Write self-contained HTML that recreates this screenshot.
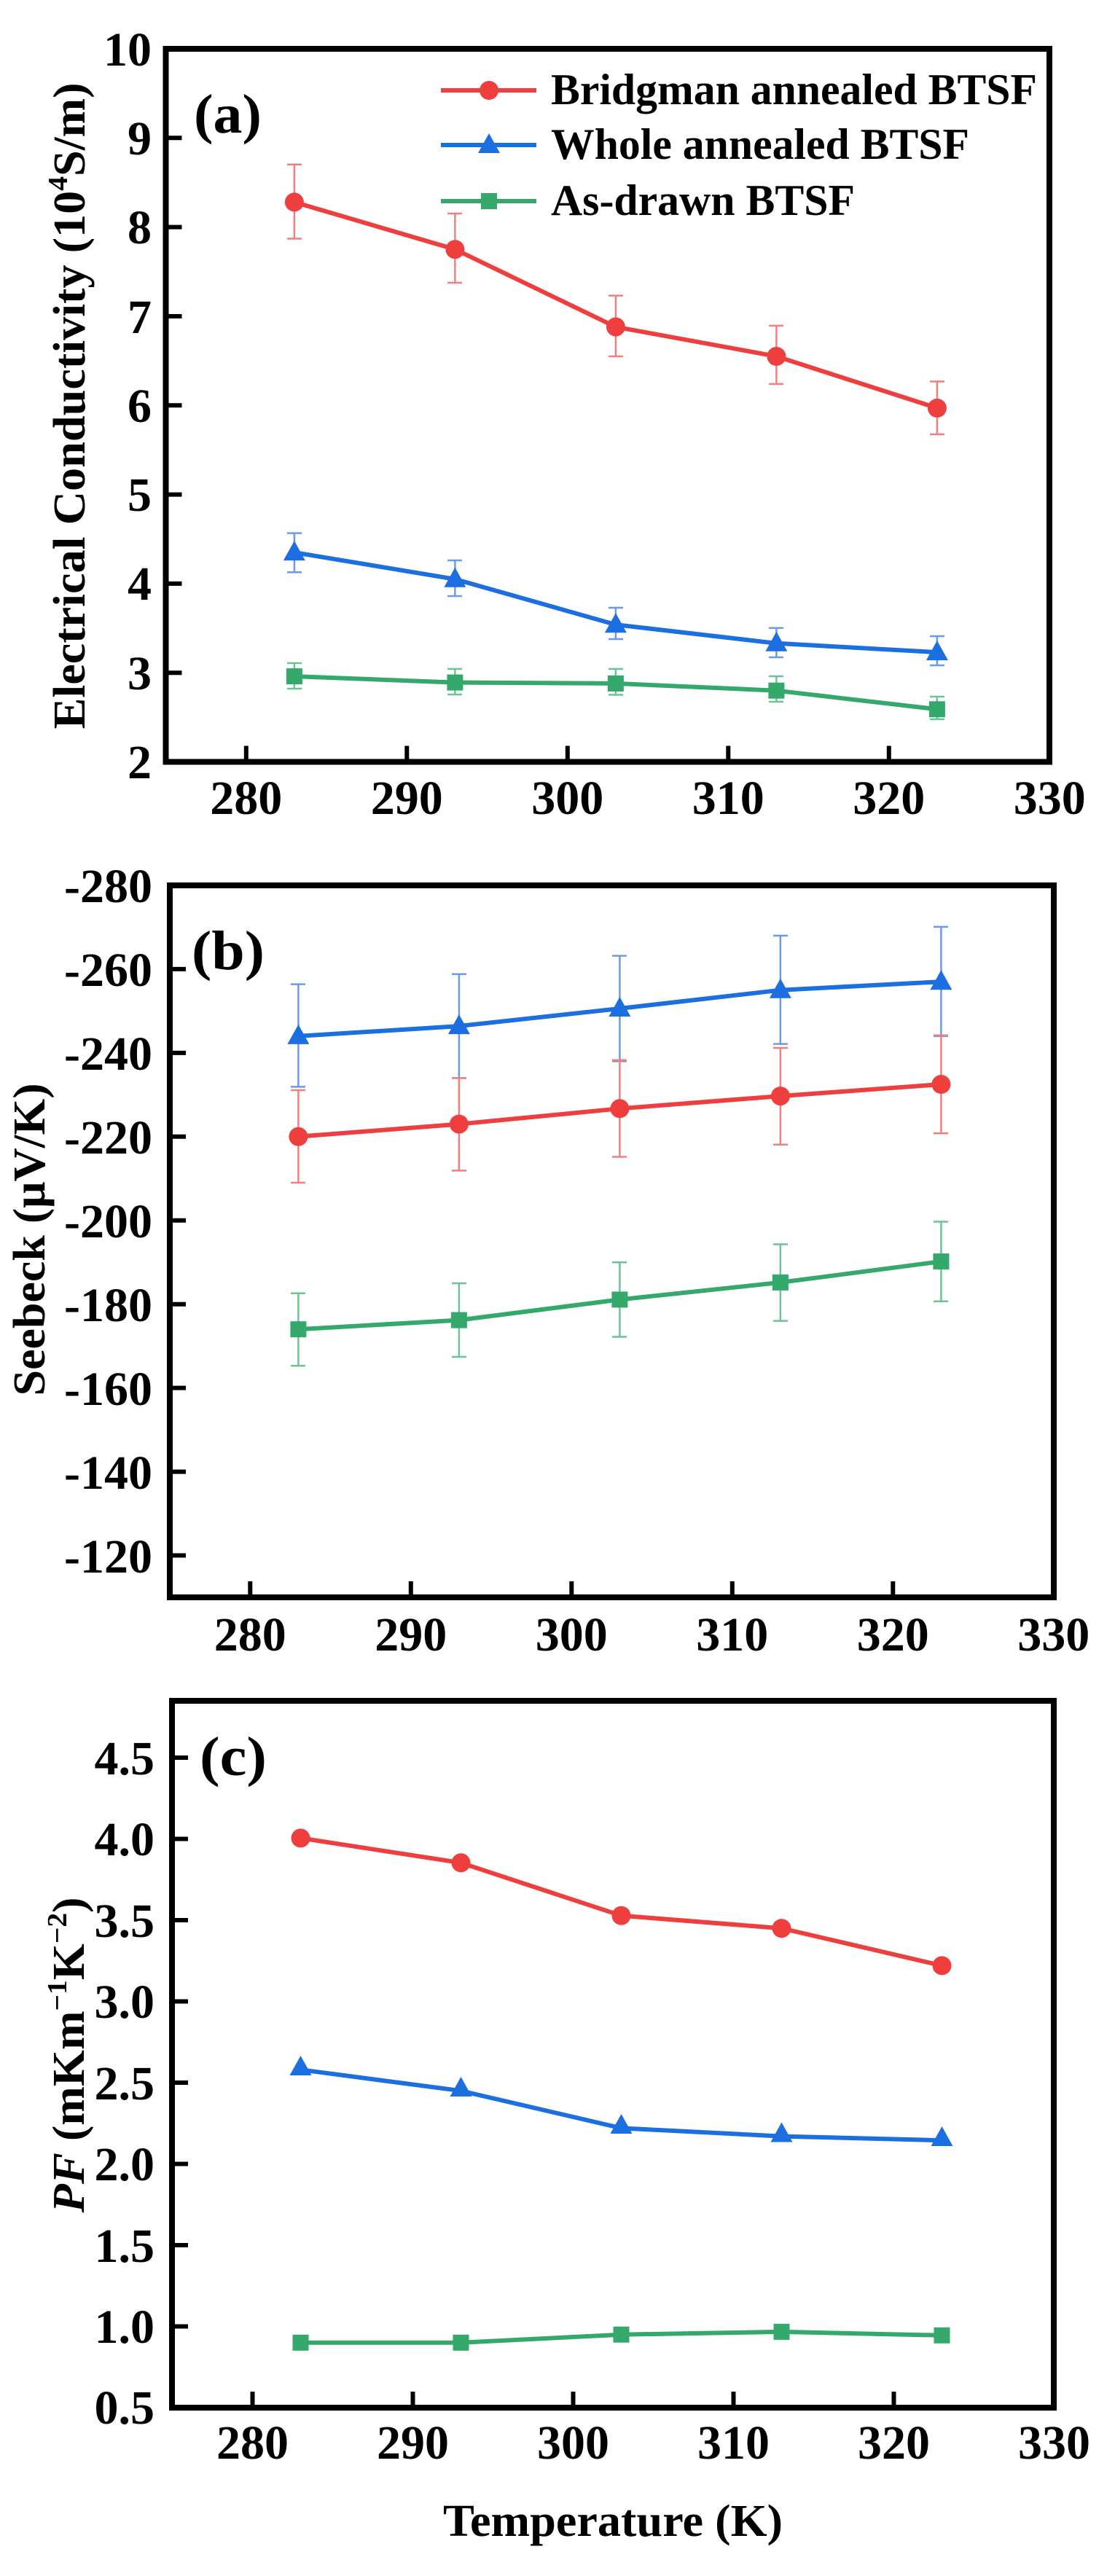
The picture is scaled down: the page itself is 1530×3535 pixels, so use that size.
<!DOCTYPE html>
<html><head><meta charset="utf-8"><style>html,body{margin:0;padding:0;background:#fff}svg{display:block}</style></head>
<body>
<svg xmlns="http://www.w3.org/2000/svg" width="1530" height="3535" viewBox="0 0 1530 3535" font-family="'Liberation Serif', serif" font-weight="bold">
<defs>
<g id="ci"><circle r="13" fill="#EF3E3E"/></g>
<g id="tr"><path d="M0,-16 L15,11 L-15,11 Z" fill="#1C6FE0"/></g>
<g id="sq"><rect x="-11" y="-11" width="22" height="22" fill="#34A96B"/></g>
</defs>

<!-- ================= Panel A ================= -->
<g stroke-width="2.5" fill="none">
<g stroke="#F08080">
<path d="M403.9,225.8V327.5M394,225.8h20M394,327.5h20 M624.4,293V388M614,293h20M614,388h20 M844.9,405.6V489M835,405.6h20M835,489h20 M1065.4,447V527M1055,447h20M1055,527h20 M1285.9,523.5V596M1276,523.5h20M1276,596h20"/>
</g>
<g stroke="#6A9BE8">
<path d="M403.9,731.6V785.2M394,731.6h20M394,785.2h20 M624.4,769V818M614,769h20M614,818h20 M844.9,834V877M835,834h20M835,877h20 M1065.4,861.7V902M1055,861.7h20M1055,902h20 M1285.9,873V913M1276,873h20M1276,913h20"/>
</g>
<g stroke="#6CC496">
<path d="M403.9,910V945M394,910h20M394,945h20 M624.4,918V953M614,918h20M614,953h20 M844.9,918V953.5M835,918h20M835,953.5h20 M1065.4,928V963M1055,928h20M1055,963h20 M1285.9,956V987M1276,956h20M1276,987h20"/>
</g>
</g>
<polyline points="403.9,277.4 624.4,342.2 844.9,448.6 1065.4,489 1285.9,560" fill="none" stroke="#EF3E3E" stroke-width="6"/>
<polyline points="403.9,758.1 624.4,794.8 844.9,857.2 1065.4,882.8 1285.9,895.1" fill="none" stroke="#1C6FE0" stroke-width="6"/>
<polyline points="403.9,928.1 624.4,936.6 844.9,937.9 1065.4,947.7 1285.9,973.3" fill="none" stroke="#34A96B" stroke-width="6"/>
<use href="#ci" x="403.9" y="277.4"/><use href="#ci" x="624.4" y="342.2"/><use href="#ci" x="844.9" y="448.6"/><use href="#ci" x="1065.4" y="489"/><use href="#ci" x="1285.9" y="560"/>
<use href="#tr" x="403.9" y="758.1"/><use href="#tr" x="624.4" y="794.8"/><use href="#tr" x="844.9" y="857.2"/><use href="#tr" x="1065.4" y="882.8"/><use href="#tr" x="1285.9" y="895.1"/>
<use href="#sq" x="403.9" y="928.1"/><use href="#sq" x="624.4" y="936.6"/><use href="#sq" x="844.9" y="937.9"/><use href="#sq" x="1065.4" y="947.7"/><use href="#sq" x="1285.9" y="973.3"/>

<!-- legend -->
<line x1="605" y1="124" x2="736" y2="124" stroke="#EF3E3E" stroke-width="6"/><use href="#ci" x="671" y="124"/>
<line x1="605" y1="199" x2="736" y2="199" stroke="#1C6FE0" stroke-width="6"/><use href="#tr" x="671" y="199"/>
<line x1="605" y1="276" x2="736" y2="276" stroke="#34A96B" stroke-width="6"/><use href="#sq" x="671" y="276"/>
<text x="756" y="143" font-size="60" textLength="667" lengthAdjust="spacingAndGlyphs">Bridgman annealed BTSF</text>
<text x="756" y="218" font-size="60" textLength="574" lengthAdjust="spacingAndGlyphs">Whole annealed BTSF</text>
<text x="756" y="295" font-size="60" textLength="417" lengthAdjust="spacingAndGlyphs">As-drawn BTSF</text>
<text x="266" y="182" font-size="76" textLength="93" lengthAdjust="spacingAndGlyphs">(a)</text>

<rect x="227.5" y="67" width="1212.5" height="978.5" fill="none" stroke="#000" stroke-width="8"/>
<path d="M337.8,1045.5v-22M558.3,1045.5v-22M778.8,1045.5v-22M999.3,1045.5v-22M1219.8,1045.5v-22 M227.5,923.2h22M227.5,800.9h22M227.5,678.6h22M227.5,556.3h22M227.5,434h22M227.5,311.6h22M227.5,189.3h22" stroke="#000" stroke-width="6"/>
<g font-size="66" text-anchor="middle">
<text x="337.8" y="1117">280</text><text x="558.3" y="1117">290</text><text x="778.8" y="1117">300</text><text x="999.3" y="1117">310</text><text x="1219.8" y="1117">320</text><text x="1440.3" y="1117">330</text>
</g>
<g font-size="66" text-anchor="end">
<text x="208" y="1068">2</text><text x="208" y="946">3</text><text x="208" y="823">4</text><text x="208" y="701">5</text><text x="208" y="579">6</text><text x="208" y="457">7</text><text x="208" y="334">8</text><text x="208" y="212">9</text><text x="208" y="90">10</text>
</g>
<text transform="translate(116,557) rotate(-90)" font-size="62" text-anchor="middle" textLength="887" lengthAdjust="spacingAndGlyphs">Electrical Conductivity (10<tspan font-size="38" dy="-24">4</tspan><tspan dy="24">S/m)</tspan></text>

<!-- ================= Panel B ================= -->
<g stroke-width="2.5" fill="none">
<g stroke="#6A9BE8">
<path d="M409.4,1350.6V1491.4M399,1350.6h20M399,1491.4h20 M629.9,1336.8V1479.4M620,1336.8h20M620,1479.4h20 M850.4,1311.6V1456.4M840,1311.6h20M840,1456.4h20 M1070.9,1284V1432.6M1061,1284h20M1061,1432.6h20 M1291.4,1271.9V1421.9M1281,1271.9h20M1281,1421.9h20"/>
</g>
<g stroke="#F08080">
<path d="M409.4,1496V1623M399,1496h20M399,1623h20 M629.9,1479.4V1606.4M620,1479.4h20M620,1606.4h20 M850.4,1454.7V1587.5M840,1454.7h20M840,1587.5h20 M1070.9,1438V1570.7M1061,1438h20M1061,1570.7h20 M1291.4,1420.8V1555.2M1281,1420.8h20M1281,1555.2h20"/>
</g>
<g stroke="#6CC496">
<path d="M409.4,1774.8V1874.2M399,1774.8h20M399,1874.2h20 M629.9,1761V1862M620,1761h20M620,1862h20 M850.4,1732.2V1834.5M840,1732.2h20M840,1834.5h20 M1070.9,1707.5V1812.6M1061,1707.5h20M1061,1812.6h20 M1291.4,1676.5V1785.7M1281,1676.5h20M1281,1785.7h20"/>
</g>
</g>
<polyline points="409.4,1421.9 629.9,1408.1 850.4,1384 1070.9,1358.7 1291.4,1347.2" fill="none" stroke="#1C6FE0" stroke-width="6"/>
<polyline points="409.4,1559.8 629.9,1542.6 850.4,1521.3 1070.9,1504.1 1291.4,1488" fill="none" stroke="#EF3E3E" stroke-width="6"/>
<polyline points="409.4,1824.2 629.9,1811.6 850.4,1783.4 1070.9,1759.9 1291.4,1731.1" fill="none" stroke="#34A96B" stroke-width="6"/>
<use href="#tr" x="409.4" y="1421.9"/><use href="#tr" x="629.9" y="1408.1"/><use href="#tr" x="850.4" y="1384"/><use href="#tr" x="1070.9" y="1358.7"/><use href="#tr" x="1291.4" y="1347.2"/>
<use href="#ci" x="409.4" y="1559.8"/><use href="#ci" x="629.9" y="1542.6"/><use href="#ci" x="850.4" y="1521.3"/><use href="#ci" x="1070.9" y="1504.1"/><use href="#ci" x="1291.4" y="1488"/>
<use href="#sq" x="409.4" y="1824.2"/><use href="#sq" x="629.9" y="1811.6"/><use href="#sq" x="850.4" y="1783.4"/><use href="#sq" x="1070.9" y="1759.9"/><use href="#sq" x="1291.4" y="1731.1"/>
<text x="263" y="1330" font-size="76" textLength="100" lengthAdjust="spacingAndGlyphs">(b)</text>

<rect x="233" y="1215" width="1213" height="977" fill="none" stroke="#000" stroke-width="8"/>
<path d="M343.3,2192v-22M563.8,2192v-22M784.3,2192v-22M1004.8,2192v-22M1225.3,2192v-22 M233,1329.9h22M233,1444.9h22M233,1559.8h22M233,1674.8h22M233,1789.7h22M233,1904.6h22M233,2019.6h22M233,2134.5h22" stroke="#000" stroke-width="6"/>
<g font-size="66" text-anchor="middle">
<text x="343.3" y="2265">280</text><text x="563.8" y="2265">290</text><text x="784.3" y="2265">300</text><text x="1004.8" y="2265">310</text><text x="1225.3" y="2265">320</text><text x="1445.8" y="2265">330</text>
</g>
<g font-size="66" text-anchor="end">
<text x="209" y="1238">-280</text><text x="209" y="1353">-260</text><text x="209" y="1468">-240</text><text x="209" y="1583">-220</text><text x="209" y="1698">-200</text><text x="209" y="1813">-180</text><text x="209" y="1928">-160</text><text x="209" y="2043">-140</text><text x="209" y="2158">-120</text>
</g>
<text transform="translate(61,1701) rotate(-90)" font-size="62" text-anchor="middle" textLength="429" lengthAdjust="spacingAndGlyphs">Seebeck (μV/K)</text>

<!-- ================= Panel C ================= -->
<polyline points="412.5,2522.4 632.5,2556.3 852.5,2628.8 1072.5,2646.2 1292.5,2697.4" fill="none" stroke="#EF3E3E" stroke-width="6"/>
<polyline points="412.5,2840.2 632.5,2869.2 852.5,2920.4 1072.5,2931.6 1292.5,2937.2" fill="none" stroke="#1C6FE0" stroke-width="6"/>
<polyline points="412.5,3214.8 632.5,3214.8 852.5,3203.7 1072.5,3199.9 1292.5,3204.8" fill="none" stroke="#34A96B" stroke-width="6"/>
<use href="#ci" x="412.5" y="2522.4"/><use href="#ci" x="632.5" y="2556.3"/><use href="#ci" x="852.5" y="2628.8"/><use href="#ci" x="1072.5" y="2646.2"/><use href="#ci" x="1292.5" y="2697.4"/>
<use href="#tr" x="412.5" y="2837"/><use href="#tr" x="632.5" y="2866"/><use href="#tr" x="852.5" y="2917"/><use href="#tr" x="1072.5" y="2928.5"/><use href="#tr" x="1292.5" y="2934"/>
<use href="#sq" x="412.5" y="3214.8"/><use href="#sq" x="632.5" y="3214.8"/><use href="#sq" x="852.5" y="3203.7"/><use href="#sq" x="1072.5" y="3199.9"/><use href="#sq" x="1292.5" y="3204.8"/>
<text x="274" y="2436" font-size="76" textLength="92" lengthAdjust="spacingAndGlyphs">(c)</text>

<rect x="236" y="2334" width="1210" height="970" fill="none" stroke="#000" stroke-width="8"/>
<path d="M346.5,3304v-22M566.5,3304v-22M786.5,3304v-22M1006.5,3304v-22M1226.5,3304v-22 M236,3192.5h22M236,3081h22M236,2969.5h22M236,2858h22M236,2746.5h22M236,2635h22M236,2523.5h22M236,2412h22" stroke="#000" stroke-width="6"/>
<g font-size="66" text-anchor="middle">
<text x="346.5" y="3374">280</text><text x="566.5" y="3374">290</text><text x="786.5" y="3374">300</text><text x="1006.5" y="3374">310</text><text x="1226.5" y="3374">320</text><text x="1446.5" y="3374">330</text>
</g>
<g font-size="66" text-anchor="end">
<text x="212" y="3326">0.5</text><text x="212" y="3215">1.0</text><text x="212" y="3104">1.5</text><text x="212" y="2992">2.0</text><text x="212" y="2881">2.5</text><text x="212" y="2769">3.0</text><text x="212" y="2658">3.5</text><text x="212" y="2546">4.0</text><text x="212" y="2435">4.5</text>
</g>
<text transform="translate(115,2820) rotate(-90)" font-size="62" text-anchor="middle" textLength="433" lengthAdjust="spacingAndGlyphs"><tspan font-style="italic">PF</tspan> (mKm<tspan font-size="38" dy="-24">−1</tspan><tspan dy="24">K</tspan><tspan font-size="38" dy="-24">−2</tspan><tspan dy="24">)</tspan></text>
<text x="841" y="3480" font-size="62" text-anchor="middle" textLength="466" lengthAdjust="spacingAndGlyphs">Temperature (K)</text>
</svg>
</body></html>
